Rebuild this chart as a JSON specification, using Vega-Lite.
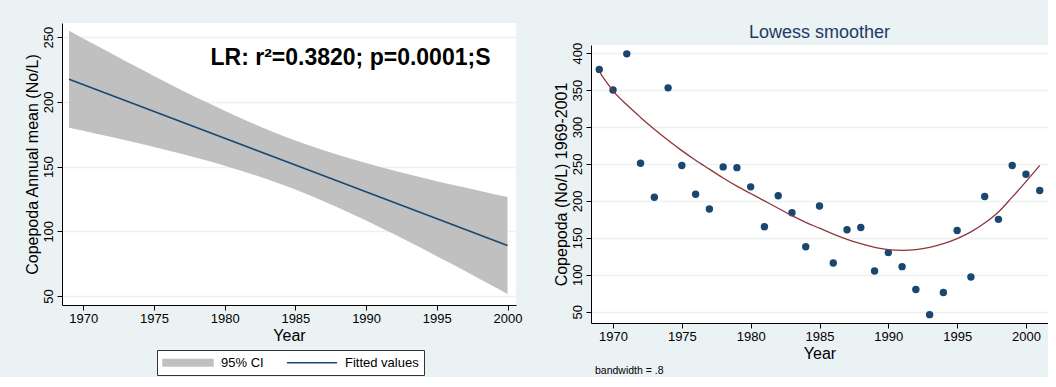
{
  "$schema": "https://vega.github.io/schema/vega-lite/v6.json",
  "background": "#eaf2f3",
  "padding": {"left": 24, "top": 22, "right": 0, "bottom": 0},
  "spacing": 31,
  "config": {
    "font": "Liberation Sans",
    "view": {"fill": "white", "stroke": null},
    "axis": {
      "labelFont": "Liberation Sans", "labelFontSize": 13, "labelColor": "#000",
      "titleFont": "Liberation Sans", "titleFontSize": 16, "titleFontWeight": "normal", "titleColor": "#000",
      "domainColor": "#000", "tickColor": "#000", "tickSize": 5, "labelOverlap": false,
      "gridColor": "#eaf2f3", "gridWidth": 1.5, "labelPadding": 2, "titlePadding": 2
    },
    "axisX": {"grid": false},
    "axisY": {"grid": true, "labelAngle": -90, "labelAlign": "center", "labelBaseline": "bottom"}
  },
  "datasets": {
    "band": [
      {"year": 1969, "lo": 180.0, "hi": 255.0, "key": "95% CI"},
      {"year": 1970, "lo": 177.7, "hi": 249.1, "key": "95% CI"},
      {"year": 1971, "lo": 175.2, "hi": 243.2, "key": "95% CI"},
      {"year": 1972, "lo": 172.8, "hi": 237.4, "key": "95% CI"},
      {"year": 1973, "lo": 170.3, "hi": 231.5, "key": "95% CI"},
      {"year": 1974, "lo": 167.8, "hi": 225.8, "key": "95% CI"},
      {"year": 1975, "lo": 165.2, "hi": 220.1, "key": "95% CI"},
      {"year": 1976, "lo": 162.5, "hi": 214.5, "key": "95% CI"},
      {"year": 1977, "lo": 159.7, "hi": 208.9, "key": "95% CI"},
      {"year": 1978, "lo": 156.9, "hi": 203.5, "key": "95% CI"},
      {"year": 1979, "lo": 153.9, "hi": 198.3, "key": "95% CI"},
      {"year": 1980, "lo": 150.7, "hi": 193.1, "key": "95% CI"},
      {"year": 1981, "lo": 147.4, "hi": 188.1, "key": "95% CI"},
      {"year": 1982, "lo": 143.9, "hi": 183.3, "key": "95% CI"},
      {"year": 1983, "lo": 140.2, "hi": 178.7, "key": "95% CI"},
      {"year": 1984, "lo": 136.3, "hi": 174.3, "key": "95% CI"},
      {"year": 1985, "lo": 132.2, "hi": 170.2, "key": "95% CI"},
      {"year": 1986, "lo": 127.8, "hi": 166.3, "key": "95% CI"},
      {"year": 1987, "lo": 123.2, "hi": 162.6, "key": "95% CI"},
      {"year": 1988, "lo": 118.4, "hi": 159.1, "key": "95% CI"},
      {"year": 1989, "lo": 113.4, "hi": 155.8, "key": "95% CI"},
      {"year": 1990, "lo": 108.3, "hi": 152.7, "key": "95% CI"},
      {"year": 1991, "lo": 103.0, "hi": 149.6, "key": "95% CI"},
      {"year": 1992, "lo": 97.6, "hi": 146.8, "key": "95% CI"},
      {"year": 1993, "lo": 92.0, "hi": 144.0, "key": "95% CI"},
      {"year": 1994, "lo": 86.4, "hi": 141.3, "key": "95% CI"},
      {"year": 1995, "lo": 80.7, "hi": 138.7, "key": "95% CI"},
      {"year": 1996, "lo": 75.0, "hi": 136.2, "key": "95% CI"},
      {"year": 1997, "lo": 69.2, "hi": 133.8, "key": "95% CI"},
      {"year": 1998, "lo": 63.3, "hi": 131.3, "key": "95% CI"},
      {"year": 1999, "lo": 57.5, "hi": 128.9, "key": "95% CI"},
      {"year": 2000, "lo": 51.5, "hi": 126.5, "key": "95% CI"}
    ],
    "fitted": [
      {"year": 1969, "fit": 217.5, "key": "Fitted values"},
      {"year": 1985, "fit": 151.2, "key": "Fitted values"},
      {"year": 2000, "fit": 89.0, "key": "Fitted values"}
    ],
    "obs": [
      {"year": 1969, "value": 378}, {"year": 1970, "value": 350}, {"year": 1971, "value": 399},
      {"year": 1972, "value": 251}, {"year": 1973, "value": 205}, {"year": 1974, "value": 353},
      {"year": 1975, "value": 248}, {"year": 1976, "value": 209}, {"year": 1977, "value": 189},
      {"year": 1978, "value": 246}, {"year": 1979, "value": 245}, {"year": 1980, "value": 219},
      {"year": 1981, "value": 165}, {"year": 1982, "value": 207}, {"year": 1983, "value": 184},
      {"year": 1984, "value": 138}, {"year": 1985, "value": 193}, {"year": 1986, "value": 116},
      {"year": 1987, "value": 161}, {"year": 1988, "value": 164}, {"year": 1989, "value": 105},
      {"year": 1990, "value": 130}, {"year": 1991, "value": 111}, {"year": 1992, "value": 80},
      {"year": 1993, "value": 46}, {"year": 1994, "value": 76}, {"year": 1995, "value": 160},
      {"year": 1996, "value": 97}, {"year": 1997, "value": 206}, {"year": 1998, "value": 175},
      {"year": 1999, "value": 248}, {"year": 2000, "value": 236}, {"year": 2001, "value": 214}
    ],
    "lowess": [
      {"year": 1969, "value": 375}, {"year": 1970, "value": 349}, {"year": 1971, "value": 330},
      {"year": 1972, "value": 313}, {"year": 1973, "value": 297}, {"year": 1974, "value": 282},
      {"year": 1975, "value": 268}, {"year": 1976, "value": 255}, {"year": 1977, "value": 243},
      {"year": 1978, "value": 231}, {"year": 1979, "value": 220}, {"year": 1980, "value": 210},
      {"year": 1981, "value": 200}, {"year": 1982, "value": 190}, {"year": 1983, "value": 180},
      {"year": 1984, "value": 171}, {"year": 1985, "value": 163}, {"year": 1986, "value": 155},
      {"year": 1987, "value": 148}, {"year": 1988, "value": 142}, {"year": 1989, "value": 137},
      {"year": 1990, "value": 134}, {"year": 1991, "value": 133}, {"year": 1992, "value": 134},
      {"year": 1993, "value": 137}, {"year": 1994, "value": 142}, {"year": 1995, "value": 149},
      {"year": 1996, "value": 158}, {"year": 1997, "value": 170}, {"year": 1998, "value": 185},
      {"year": 1999, "value": 205}, {"year": 2000, "value": 226}, {"year": 2001, "value": 248}
    ],
    "note": [
      {"year": 1979, "value": 234, "label": "LR: r²=0.3820; p=0.0001;S"}
    ]
  },
  "hconcat": [
    {
      "width": 454,
      "height": 282,
      "encoding": {
        "x": {"field": "year", "type": "quantitative", "title": "Year",
              "scale": {"domain": [1968.5, 2000.6], "nice": false, "zero": false},
              "axis": {"values": [1970, 1975, 1980, 1985, 1990, 1995, 2000], "format": "d", "labelOverlap": false}}
      },
      "layer": [
        {
          "data": {"name": "band"},
          "mark": {"type": "area", "opacity": 1},
          "encoding": {
            "y": {"field": "lo", "type": "quantitative", "title": "Copepoda Annual mean (No/L)",
                  "scale": {"domain": [43, 261], "nice": false, "zero": false},
                  "axis": {"values": [50, 100, 150, 200, 250], "labelOverlap": false}},
            "y2": {"field": "hi"},
            "color": {"field": "key", "type": "nominal",
                      "scale": {"domain": ["95% CI", "Fitted values"], "range": ["#c0c0c0", "#1a476f"]},
                      "legend": {
                        "orient": "none", "legendX": 95, "legendY": 327,
                        "direction": "horizontal", "title": null,
                        "fillColor": "white", "strokeColor": "#333333",
                        "padding": 5, "symbolSize": 169, "labelFontSize": 13, "labelColor": "#000",
                        "labelOffset": 44, "columnPadding": 20, "symbolStrokeWidth": 1.5,
                        "symbolType": {"expr": "datum.value === '95% CI' ? 'M-1,-0.5L6.69,-0.5L6.69,0.5L-1,0.5Z' : 'M-1,0L6.69,0'"},
                        "symbolStrokeColor": {"expr": "datum.value === '95% CI' ? 'transparent' : '#1a476f'"}
                      }}
          }
        },
        {
          "data": {"name": "fitted"},
          "mark": {"type": "line", "strokeWidth": 1.5},
          "encoding": {
            "y": {"field": "fit", "type": "quantitative"},
            "color": {"field": "key", "type": "nominal", "legend": null}
          }
        },
        {
          "data": {"name": "note"},
          "mark": {"type": "text", "align": "left", "baseline": "middle", "fontSize": 23, "fontWeight": "bold", "color": "#000"},
          "encoding": {
            "y": {"field": "value", "type": "quantitative"},
            "text": {"field": "label"}
          }
        }
      ]
    },
    {
      "title": {"text": "bandwidth = .8", "orient": "bottom", "anchor": "start", "fontSize": 10.5,
                "fontWeight": "normal", "color": "#000", "font": "Liberation Sans", "offset": 5, "dx": 42},
      "spacing": 0,
      "vconcat": [
        {
          "width": 457,
          "height": 1,
          "view": {"fill": null, "stroke": null},
          "title": {"text": "Lowess smoother", "orient": "bottom", "anchor": "middle", "fontSize": 18,
                    "fontWeight": "normal", "color": "#1e3a66", "font": "Liberation Sans", "offset": 0},
          "data": {"values": [{}]},
          "mark": {"type": "text", "text": "", "fontSize": 1, "opacity": 0}
        },
        {
          "width": 457,
          "height": 278,
          "encoding": {
            "x": {"field": "year", "type": "quantitative", "title": "Year",
                  "scale": {"domain": [1968.4, 2001.6], "nice": false, "zero": false},
                  "axis": {"values": [1970, 1975, 1980, 1985, 1990, 1995, 2000], "format": "d", "labelOverlap": false}},
            "y": {"field": "value", "type": "quantitative", "title": "Copepoda (No/L) 1969-2001",
                  "scale": {"domain": [34.7, 411], "nice": false, "zero": false},
                  "axis": {"values": [50, 100, 150, 200, 250, 300, 350, 400], "labelOverlap": false}}
          },
          "layer": [
            {
              "data": {"name": "obs"},
              "mark": {"type": "circle", "size": 55, "opacity": 1, "color": "#1a476f"}
            },
            {
              "data": {"name": "lowess"},
              "mark": {"type": "line", "color": "#90353b", "strokeWidth": 1.3, "interpolate": "monotone"}
            }
          ]
        }
      ]
    }
  ]
}
